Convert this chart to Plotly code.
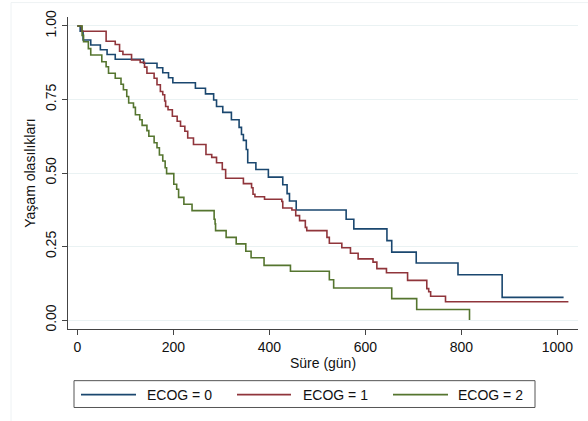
import plotly.graph_objects as go

# ---- data ----
ecog0_time = [0, 6, 12, 28, 48, 62, 79, 138, 166, 178, 190, 199, 246, 267, 284, 290, 303, 321, 337, 342,
              346, 352, 355, 372, 398, 428, 437, 442, 456, 560, 576, 645, 655, 706, 793, 885, 1013]
ecog0_surv = [1.0, 0.982, 0.952, 0.935, 0.919, 0.903, 0.887, 0.873, 0.858, 0.841, 0.824, 0.807, 0.788, 0.769,
              0.748, 0.726, 0.706, 0.681, 0.655, 0.631, 0.611, 0.580, 0.535, 0.512, 0.486, 0.460, 0.430, 0.405,
              0.374, 0.343, 0.310, 0.270, 0.231, 0.194, 0.154, 0.077, 0.077]

ecog1_time = [0, 9, 60, 79, 88, 95, 113, 131, 140, 145, 160, 166, 173, 178, 182, 184, 189, 198, 208, 215,
              224, 230, 242, 268, 280, 290, 302, 309, 346, 363, 366, 370, 390, 426, 428, 447, 455, 463, 475,
              478, 520, 525, 551, 569, 585, 616, 624, 644, 688, 728, 732, 736, 767, 1023]
ecog1_surv = [1.0, 0.982, 0.948, 0.937, 0.914, 0.903, 0.884, 0.876, 0.860, 0.839, 0.822, 0.800, 0.777, 0.766,
              0.745, 0.726, 0.715, 0.693, 0.676, 0.659, 0.642, 0.619, 0.597, 0.563, 0.553, 0.535, 0.512, 0.482,
              0.464, 0.450, 0.428, 0.419, 0.411, 0.403, 0.381, 0.374, 0.355, 0.338, 0.315, 0.304, 0.281, 0.261,
              0.246, 0.227, 0.208, 0.197, 0.175, 0.161, 0.135, 0.107, 0.096, 0.081, 0.062, 0.062]

ecog2_time = [0, 10, 13, 23, 28, 51, 60, 65, 79, 91, 96, 103, 107, 117, 121, 130, 135, 145, 149, 160, 166,
              171, 178, 183, 186, 201, 207, 211, 222, 239, 285, 287, 288, 310, 331, 351, 362, 389, 444, 525,
              534, 655, 707, 817]
ecog2_surv = [1.0, 0.968, 0.946, 0.923, 0.901, 0.878, 0.861, 0.839, 0.822, 0.802, 0.783, 0.760, 0.738, 0.723,
              0.698, 0.681, 0.662, 0.644, 0.625, 0.603, 0.586, 0.561, 0.541, 0.518, 0.498, 0.462, 0.445, 0.417,
              0.394, 0.372, 0.343, 0.327, 0.304, 0.281, 0.259, 0.234, 0.212, 0.186, 0.166, 0.137, 0.109, 0.073,
              0.036, 0.0]

series_names = ["ECOG = 0", "ECOG = 1", "ECOG = 2"]
x_tick_vals = [0, 200, 400, 600, 800, 1000]
y_tick_vals = [0.0, 0.25, 0.5, 0.75, 1.0]
y_tick_text = ["0.00", "0.25", "0.50", "0.75", "1.00"]

colors = ["#1a476f", "#90353b", "#55752f"]
FONT = "Liberation Sans, Arial, sans-serif"

fig = go.Figure()
for t, s, name, c in zip([ecog0_time, ecog1_time, ecog2_time],
                         [ecog0_surv, ecog1_surv, ecog2_surv], series_names, colors):
    fig.add_trace(go.Scatter(x=t, y=s, mode="lines", name=name,
                             line=dict(color=c, width=1.6, shape="hv"),
                             showlegend=False))

fig.update_layout(
    width=588, height=421,
    margin=dict(l=68, r=10, t=15, b=92),
    paper_bgcolor="white", plot_bgcolor="white",
    font=dict(family=FONT, size=14, color="#111"),
    xaxis=dict(range=[-19.4, 1043], tickvals=x_tick_vals, ticks="outside", ticklen=5,
               tickcolor="#444", showline=True, linecolor="#444", linewidth=1.2,
               showgrid=False, zeroline=False,
               title=dict(text="Süre (gün)", font=dict(size=14), standoff=4),
               tickfont=dict(size=14)),
    yaxis=dict(range=[-0.0304, 1.0304], tickvals=y_tick_vals, ticktext=y_tick_text,
               ticks="outside", ticklen=5, tickcolor="#444", tickangle=-90,
               showline=True, linecolor="#444", linewidth=1.2,
               showgrid=True, gridcolor="#eaf2f3", gridwidth=1, zeroline=False,
               title=dict(text="Yaşam olasılıkları", font=dict(size=14), standoff=4),
               tickfont=dict(size=14)),
)

# faint graph-region frame
fig.add_shape(type="rect", xref="paper", yref="paper",
              x0=(11 - 68) / 510, x1=(600 - 68) / 510, y0=(329 - 430) / 314, y1=(329 - 0.5) / 314,
              line=dict(color="#eef2f4", width=1), layer="below")

# legend box (Stata style)
def px(x):
    return (x - 68) / 510

def py(y):
    return (329 - y) / 314

fig.add_shape(type="rect", xref="paper", yref="paper",
              x0=px(74), x1=px(535), y0=py(408), y1=py(381),
              line=dict(color="#555", width=1), fillcolor="white")
line_x = [(81, 136, 145), (237, 291, 301), (393, 448, 456)]
for (a, b, tx), name, c in zip(line_x, series_names, colors):
    fig.add_shape(type="line", xref="paper", yref="paper",
                  x0=px(a), x1=px(b), y0=py(395), y1=py(395),
                  line=dict(color=c, width=1.6))
    fig.add_annotation(xref="paper", yref="paper", x=px(tx), y=py(395),
                       text=name, showarrow=False, xanchor="left", yanchor="middle",
                       font=dict(size=14, color="#111"))

fig.write_html("out.html")
